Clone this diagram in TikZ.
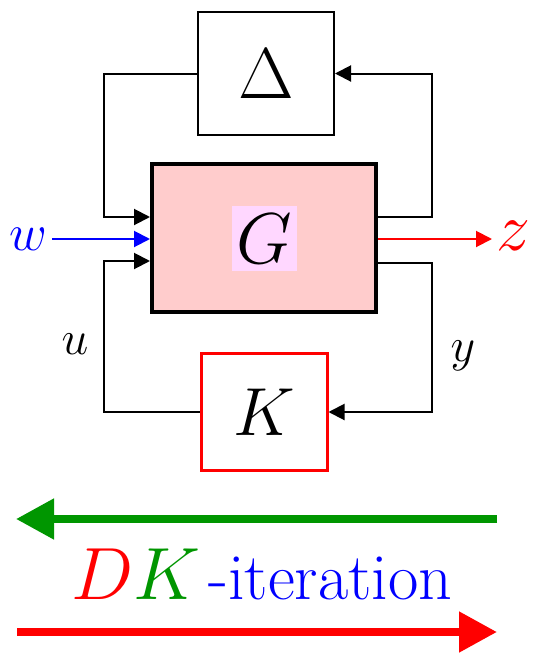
\documentclass[tikz,border=0pt]{standalone}
\usepackage{fix-cm}
\usetikzlibrary{arrows.meta, positioning}
\definecolor{plantpink}{RGB}{255,204,204}
\definecolor{glabel}{RGB}{255,215,255}
\definecolor{dkgreen}{RGB}{0,150,0}

\begin{document}
\begin{tikzpicture}[
  x=1pt, y=-1pt,
  block/.style={rectangle, draw=black, line width=2pt, inner sep=0pt},
  bigmath/.style={font=\fontsize{72}{80}\selectfont},
  lbl/.style={font=\fontsize{48}{56}\selectfont, inner sep=2pt},
  wire/.style={line width=2pt, -{Triangle[length=16pt, width=16pt]}},
  iter/.style={line width=8pt, -{Triangle[length=38pt, width=39pt]}}
]
  \useasboundingbox (0,0) rectangle (539,656);

  % Blocks
  \node[block, minimum width=136, minimum height=123, bigmath] (delta) at (266,73.5) {$\Delta$};
  \node[block, line width=4pt, fill=plantpink, minimum width=224, minimum height=148] (G) at (264,238) {};
  \node[fill=glabel, minimum width=65, minimum height=65, inner sep=0pt, bigmath] (Gtxt) at (264.5,238.5) {$G$};
  \node[block, draw=red, line width=3pt, minimum width=126, minimum height=117,
        font=\fontsize{68}{76}\selectfont] (K) at (264,412) {$K$};

  % Loop corners
  \coordinate (lt1) at (104,217);
  \coordinate (lt2) at (104,261);
  \coordinate (rt1) at (432,217);
  \coordinate (rt2) at (432,263);

  % Feedback wires
  \draw[wire] (delta.west) -| (lt1) -- (G.west |- lt1);
  \draw[wire] (G.east |- rt1) -- (rt1) |- (delta.east);
  \draw[wire] (K.west) -| (lt2) -- (G.west |- lt2);
  \draw[wire] (G.east |- rt2) -- (rt2) |- (K.east);

  % Exogenous signals
  \node[font=\fontsize{52}{60}\selectfont, text=blue, inner sep=5pt] (w) at (28,239) {$w$};
  \draw[wire, blue] (w.east) -- (G.west |- w.east);
  \node[font=\fontsize{68}{76}\selectfont, text=red, anchor=west, inner sep=4pt] (z) at (492,236) {$z$};
  \draw[wire, red] (G.east |- 0,239) -- (z.west |- 0,239);

  \node[lbl] (u) at (75,344) {$u$};
  \node[lbl] (y) at (463,356) {$y$};

  % DK-iteration
  \coordinate (gS) at (497,519);
  \coordinate (gE) at (16,519);
  \coordinate (rS) at (17,632);
  \coordinate (rE) at (497,632);
  \draw[iter, dkgreen] (gS) -- (gE);
  \draw[iter, red] (rS) -- (rE);
  \node[anchor=base west, font=\fontsize{74}{82}\selectfont, inner sep=0pt] (dk) at (71,599)
    {$\textcolor{red}{D}\textcolor{dkgreen}{K}$\kern8pt\textcolor{blue}{\fontsize{66}{74}\selectfont -iteration}};
\end{tikzpicture}
\end{document}
